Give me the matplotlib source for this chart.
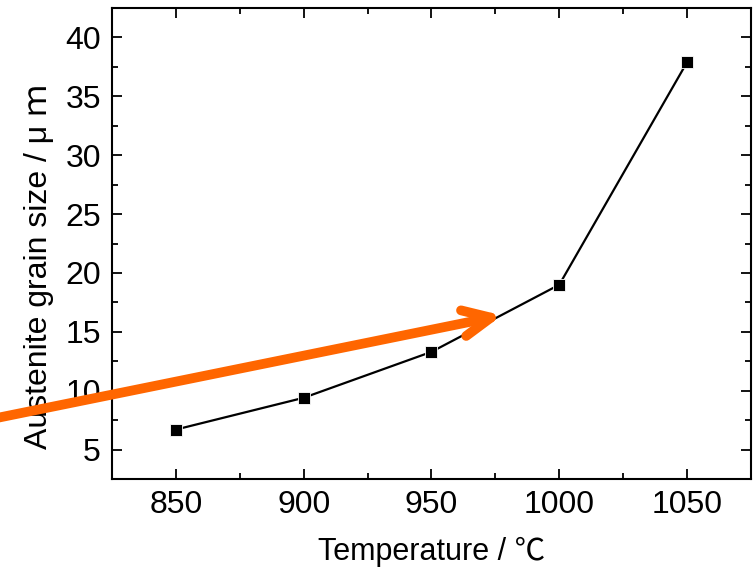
"""Austenite grain size vs temperature"""
import matplotlib
matplotlib.use('Agg')
import matplotlib.pyplot as plt
from matplotlib.ticker import MultipleLocator

temperature = [850, 900, 950, 1000, 1050]
grain_size = [6.7, 9.4, 13.3, 19.0, 37.9]
arrow_start = (769.0, 7.2)
arrow_end = (977.6, 16.4)

fonts = ['Liberation Sans', 'Noto Sans CJK SC', 'DejaVu Sans']
plt.rcParams['font.family'] = fonts


def main():
    fig = plt.figure(figsize=(7.54, 5.73), dpi=100)
    ax = fig.add_axes([0.1485, 0.164, 0.8475, 0.822])

    ax.plot(temperature, grain_size, '-', color='black', linewidth=1.6,
            marker='s', markersize=9, markerfacecolor='black', markeredgecolor='white',
            markeredgewidth=0.6)

    ax.set_xlim(825, 1075)
    ax.set_ylim(2.5, 42.5)
    ax.xaxis.set_major_locator(MultipleLocator(50))
    ax.xaxis.set_minor_locator(MultipleLocator(25))
    ax.yaxis.set_major_locator(MultipleLocator(5))
    ax.yaxis.set_minor_locator(MultipleLocator(2.5))
    ax.tick_params(which='both', direction='in', top=True, right=True, width=1.3)
    ax.tick_params(which='major', length=7, labelsize=23, pad=8)
    ax.tick_params(which='minor', length=4)
    for s in ax.spines.values():
        s.set_linewidth(1.5)

    ax.set_xlabel('Temperature / ℃', fontsize=22, labelpad=12)
    ax.set_ylabel('Austenite grain size / μ ｍ', fontsize=23)
    ax.yaxis.set_label_coords(-0.091, 0.452)

    ax.annotate('', xy=arrow_end, xytext=arrow_start, annotation_clip=False,
                arrowprops=dict(arrowstyle='->,head_length=1.0,head_width=0.47',
                                mutation_scale=20, color='#ff6600', linewidth=7,
                                shrinkA=0, shrinkB=0, capstyle='round',
                                joinstyle='round'))

    fig.savefig('out.png', dpi=100)


if __name__ == '__main__':
    main()
